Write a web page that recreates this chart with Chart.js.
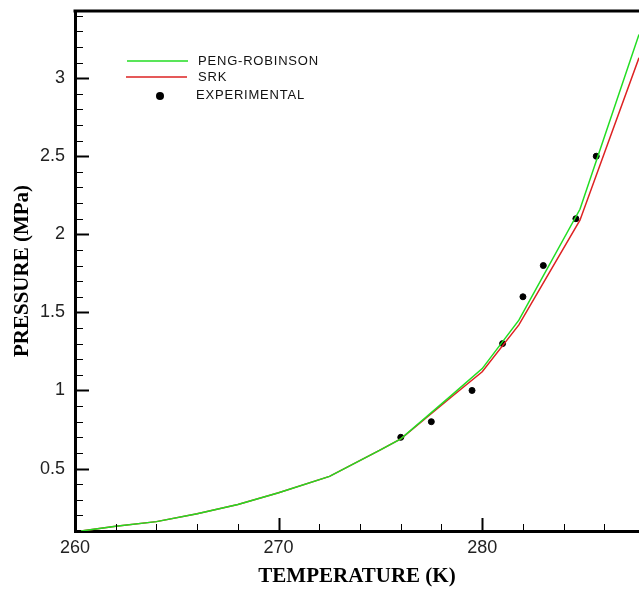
<!DOCTYPE html>
<html>
<head>
<meta charset="utf-8">
<script src="https://cdn.jsdelivr.net/npm/chart.js@4.4.0/dist/chart.umd.min.js"></script>
<style>
  html, body { margin: 0; padding: 0; background: #fff; overflow: hidden; }
  #wrap { width: 639px; height: 592px; }
</style>
</head>
<body>
<div id="wrap"><canvas id="vle_chart"></canvas></div>
<script>
// temperature grid of the model curves (K)
var tempGrid = [260.3, 262, 264, 266, 268, 270, 272.5, 275, 276, 278.5, 280, 281.8, 284.8, 287.7];
var pengRobinson = [0.10, 0.13, 0.16, 0.21, 0.27, 0.345, 0.45, 0.62, 0.69, 0.97, 1.14, 1.45, 2.16, 3.28];
var srk = [0.10, 0.13, 0.16, 0.21, 0.27, 0.345, 0.45, 0.62, 0.69, 0.96, 1.12, 1.42, 2.09, 3.13];

// experimental points
var expTemp = [276, 277.5, 279.5, 281, 282, 283, 284.6, 285.6];
var expPressure = [0.7, 0.8, 1.0, 1.3, 1.6, 1.8, 2.1, 2.5];

var xTicks = [260, 270, 280];
var yTicks = [0.5, 1, 1.5, 2, 2.5, 3];

function toPoints(xs, ys) {
    return xs.map(function (x, i) { return {x: x, y: ys[i]}; });
}

// inward major/minor ticks, top frame line and the legend box
var framePlugin = {
    id: 'frame',
    afterDraw: function (chart) {
        var ctx = chart.ctx;
        var area = chart.chartArea;
        var xs = chart.scales.x;
        var ys = chart.scales.y;
        ctx.save();
        ctx.strokeStyle = '#000';

        for (var t = 262; t < 288; t += 2) {
            var major = t % 10 === 0;
            var px = Math.round(xs.getPixelForValue(t)) + 0.5;
            ctx.lineWidth = major ? 2 : 1;
            ctx.beginPath();
            ctx.moveTo(px, area.bottom);
            ctx.lineTo(px, area.bottom - (major ? 13 : 7));
            ctx.stroke();
        }
        for (var k = 2; k <= 34; k++) {
            var v = k / 10;
            var maj = k % 5 === 0;
            var py = Math.round(ys.getPixelForValue(v)) + 0.5;
            ctx.lineWidth = maj ? 2 : 1;
            ctx.beginPath();
            ctx.moveTo(area.left, py);
            ctx.lineTo(area.left + (maj ? 14 : 8), py);
            ctx.stroke();
        }

        ctx.lineWidth = 3;
        ctx.beginPath();
        ctx.moveTo(area.left - 1.5, area.top);
        ctx.lineTo(chart.width, area.top);
        ctx.stroke();

        // legend
        ctx.lineWidth = 1.5;
        ctx.strokeStyle = '#22dd22';
        ctx.beginPath(); ctx.moveTo(127, 61); ctx.lineTo(188, 61); ctx.stroke();
        ctx.strokeStyle = '#dd2222';
        ctx.beginPath(); ctx.moveTo(126, 77); ctx.lineTo(187, 77); ctx.stroke();
        ctx.fillStyle = '#000';
        ctx.beginPath(); ctx.arc(160, 96, 4, 0, Math.PI * 2); ctx.fill();

        ctx.font = '13px "Liberation Sans", Arial, sans-serif';
        ctx.letterSpacing = '0.8px';
        ctx.textBaseline = 'middle';
        ctx.fillStyle = '#111';
        ctx.fillText('PENG-ROBINSON', 198, 61);
        ctx.fillText('SRK', 198, 77);
        ctx.fillText('EXPERIMENTAL', 196, 95);
        ctx.restore();
    }
};

var ctx = document.getElementById('vle_chart');
var myChart = new Chart(ctx, {
    type: 'line',
    data: {
        datasets: [{
            label: 'PENG-ROBINSON',
            data: toPoints(tempGrid, pengRobinson),
            borderColor: '#22dd22',
            borderWidth: 1.5,
            pointRadius: 0,
            tension: 0
        }, {
            label: 'SRK',
            data: toPoints(tempGrid, srk),
            borderColor: '#dd2222',
            borderWidth: 1.5,
            pointRadius: 0,
            tension: 0
        }, {
            type: 'scatter',
            label: 'EXPERIMENTAL',
            data: toPoints(expTemp, expPressure),
            backgroundColor: '#000',
            borderColor: '#000',
            pointRadius: 3,
            pointHoverRadius: 3
        }]
    },
    options: {
        responsive: true,
        maintainAspectRatio: false,
        animation: false,
        layout: { autoPadding: false, padding: { top: 11, right: 0, left: 0, bottom: 0 } },
        plugins: {
            legend: { display: false },
            tooltip: { enabled: false }
        },
        scales: {
            x: {
                type: 'linear',
                min: 260,
                max: 287.7,
                afterBuildTicks: function (s) { s.ticks = xTicks.map(function (v) { return {value: v}; }); },
                afterFit: function (s) { s.height = 61; s.paddingRight = 0; s.paddingLeft = 0; },
                grid: { display: false, drawTicks: false },
                border: { display: true, width: 3, color: '#000' },
                ticks: {
                    padding: 6,
                    color: '#222',
                    font: { family: '"Liberation Sans", Arial, sans-serif', size: 18 }
                },
                title: {
                    display: true,
                    text: 'TEMPERATURE (K)',
                    color: '#000',
                    padding: { top: 0, bottom: 3 },
                    font: { family: '"Liberation Serif", "Times New Roman", serif', size: 21, weight: 'bold' }
                }
            },
            y: {
                min: 0.1,
                max: 3.43,
                afterBuildTicks: function (s) { s.ticks = yTicks.map(function (v) { return {value: v}; }); },
                afterFit: function (s) { s.width = 75; s.paddingTop = 0; s.paddingBottom = 0; },
                grid: { display: false, drawTicks: false },
                border: { display: true, width: 3, color: '#000' },
                ticks: {
                    padding: 10,
                    color: '#222',
                    font: { family: '"Liberation Sans", Arial, sans-serif', size: 18 },
                    callback: function (value) { return String(value); }
                },
                title: {
                    display: true,
                    text: 'PRESSURE (MPa)',
                    color: '#000',
                    padding: { top: 10, bottom: 0 },
                    font: { family: '"Liberation Serif", "Times New Roman", serif', size: 21, weight: 'bold' }
                }
            }
        }
    },
    plugins: [framePlugin]
});
</script>
</body>
</html>
